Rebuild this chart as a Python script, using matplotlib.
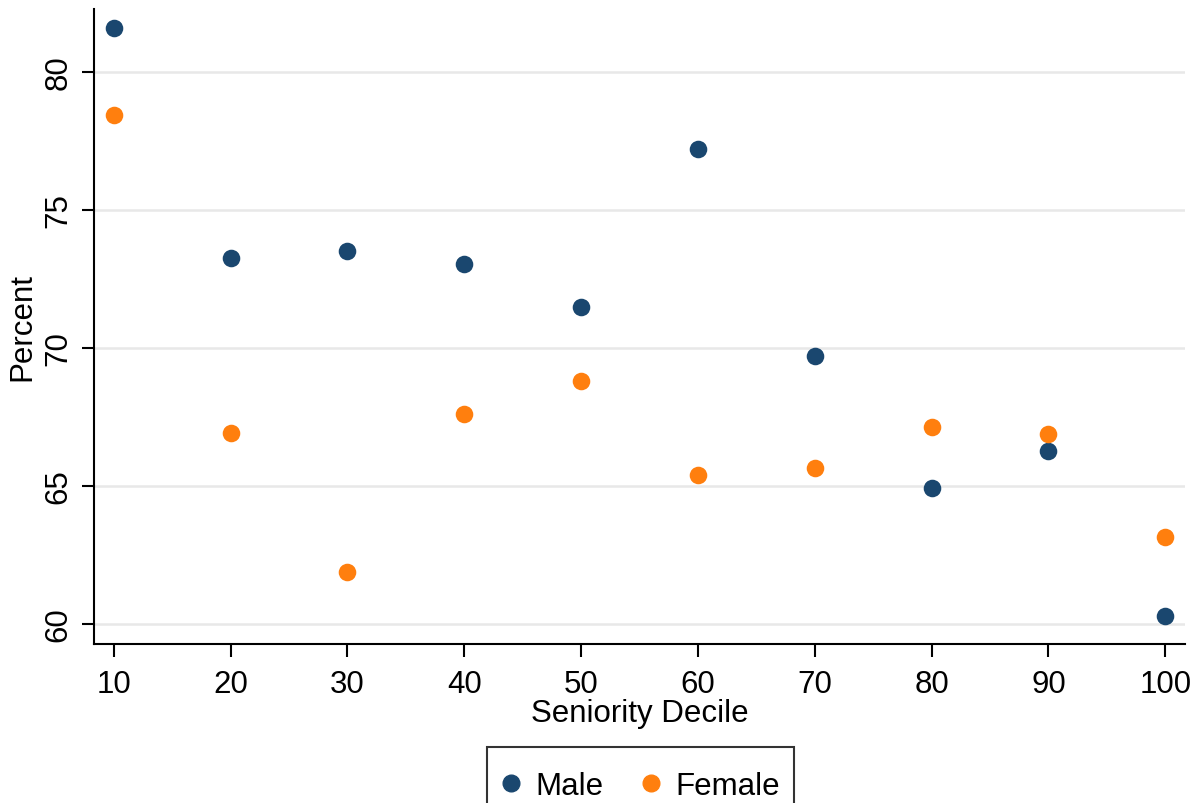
import matplotlib
matplotlib.use("Agg")
import matplotlib.pyplot as plt
from matplotlib.lines import Line2D

plt.rcParams['font.family'] = ['Liberation Sans', 'DejaVu Sans']

# values
deciles = [10, 20, 30, 40, 50, 60, 70, 80, 90, 100]
male = [81.6, 73.26, 73.51, 73.04, 71.49, 77.21, 69.71, 64.93, 66.27, 60.29]
female = [78.44, 66.92, 61.88, 67.61, 68.8, 65.4, 65.65, 67.14, 66.88, 63.15]
y_ticks = [60, 65, 70, 75, 80]

navy = '#1a476f'
orange = '#ff7f0e'
fs = 22.5

fig = plt.figure(figsize=(12.02, 8.04), dpi=100)
ax = fig.add_axes([0.0782, 0.1978, 0.9077, 0.7898])

ax.scatter(deciles, male, s=160, color=navy, zorder=3, linewidths=0)
ax.scatter(deciles, female, s=160, color=orange, zorder=3, linewidths=0)

ax.set_xlim(8.3, 101.7)
ax.set_ylim(59.28, 82.28)
ax.set_xticks(deciles)
ax.set_yticks(y_ticks)
ax.set_yticklabels([str(t) for t in y_ticks], rotation=90, va='center')
ax.tick_params(axis='both', labelsize=fs, length=9, width=1.5, direction='out')
ax.tick_params(axis='x', pad=9)
ax.tick_params(axis='y', pad=6)

ax.grid(axis='y', color='#e8e8e8', linewidth=1.8)
ax.set_axisbelow(True)
for side in ['top', 'right']:
    ax.spines[side].set_visible(False)
for side in ['left', 'bottom']:
    ax.spines[side].set_linewidth(1.5)

ax.set_xlabel('Seniority Decile', fontsize=fs, labelpad=-1)
ax.set_ylabel('Percent', fontsize=fs, labelpad=4)

handles = [
    Line2D([], [], marker='o', linestyle='', color=navy, markersize=12),
    Line2D([], [], marker='o', linestyle='', color=orange, markersize=12),
]
# tiny blank title pushes the labels down inside the box, like the original
leg = fig.legend(handles, ['Male', 'Female'], loc='upper center',
                 bbox_to_anchor=(0.533, 0.0697), ncol=2, fontsize=fs,
                 title=' ', title_fontsize=6, labelspacing=0.1,
                 frameon=True, fancybox=False, edgecolor='black',
                 borderaxespad=0, handletextpad=0.5, columnspacing=1.2,
                 borderpad=0.45, handlelength=0.6)
leg.get_frame().set_linewidth(1.5)

fig.savefig('out.png', dpi=100)
